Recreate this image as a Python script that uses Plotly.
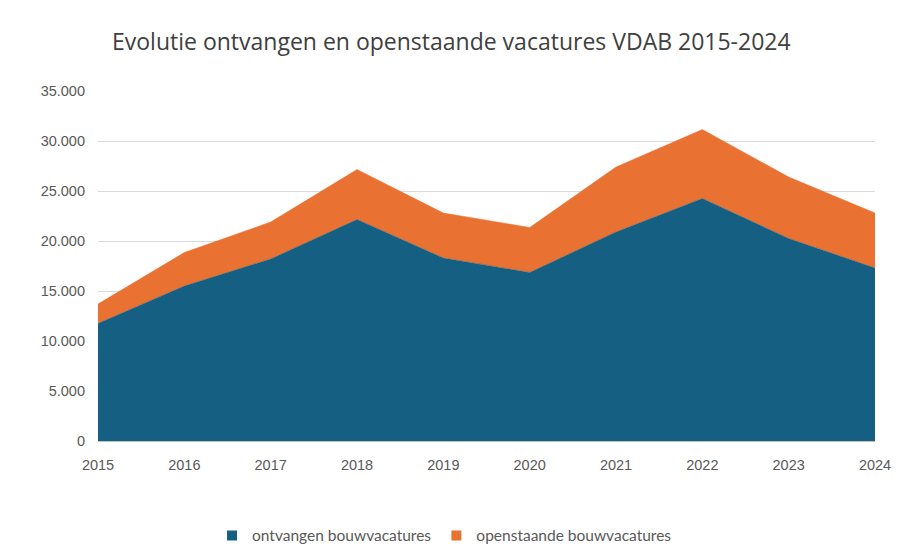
import plotly.graph_objects as go

years = [2015, 2016, 2017, 2018, 2019, 2020, 2021, 2022, 2023, 2024]
ontvangen = [11750, 15500, 18200, 22150, 18300, 16850, 20900, 24250, 20250, 17300]
openstaand = [1950, 3350, 3700, 5000, 4500, 4500, 6500, 6900, 6150, 5500]

blauw = '#156082'
oranje = '#E97132'

fig = go.Figure()
fig.add_trace(go.Scatter(
    x=years, y=ontvangen, name='ontvangen bouwvacatures',
    mode='lines', stackgroup='one', showlegend=False,
    line=dict(color=blauw, width=0.5), fillcolor=blauw,
))
fig.add_trace(go.Scatter(
    x=years, y=openstaand, name='openstaande bouwvacatures',
    mode='lines', stackgroup='one', showlegend=False,
    line=dict(color=oranje, width=0.5), fillcolor=oranje,
))
# legend entries with square markers like the original
for naam, kleur in [('ontvangen bouwvacatures', blauw), ('openstaande bouwvacatures', oranje)]:
    fig.add_trace(go.Scatter(
        x=[None], y=[None], name=naam, mode='markers',
        marker=dict(symbol='square', size=10, color=kleur),
    ))

# page has an 8px body margin, so the figure is a bit smaller
fig.update_layout(
    width=892, height=546,
    margin=dict(l=90, r=25, t=83, b=113, autoexpand=False),
    paper_bgcolor='white', plot_bgcolor='white',
    separators=',.',
    title=dict(
        text='Evolutie ontvangen en openstaande vacatures VDAB 2015-2024',
        x=0.497, xanchor='center', y=0.938, yanchor='middle',
        font=dict(family='Open Sans', size=23, color='#404040'),
    ),
    legend=dict(
        orientation='h', x=0.446, xanchor='center', y=-0.271, yanchor='middle',
        font=dict(family='Lato', size=15.5, color='#595959'),
        itemwidth=30, traceorder='normal',
    ),
    font=dict(family='Liberation Sans', size=14.5, color='#595959'),
)
fig.update_xaxes(
    range=[2015, 2024], dtick=1, tickformat='d',
    showgrid=False, zeroline=False, showline=False, ticks='',
    ticklabelstandoff=13,
    tickfont=dict(size=14.5, color='#595959'),
)
fig.update_yaxes(
    range=[0, 35000], dtick=5000, tickformat=',d',
    showgrid=True, gridcolor='#d9d9d9', gridwidth=1,
    zeroline=True, zerolinecolor='#bfbfbf', zerolinewidth=1,
    showline=False, ticks='', ticklabelstandoff=12,
    tickfont=dict(size=14.5, color='#595959'),
)

fig.write_html('out.html')
